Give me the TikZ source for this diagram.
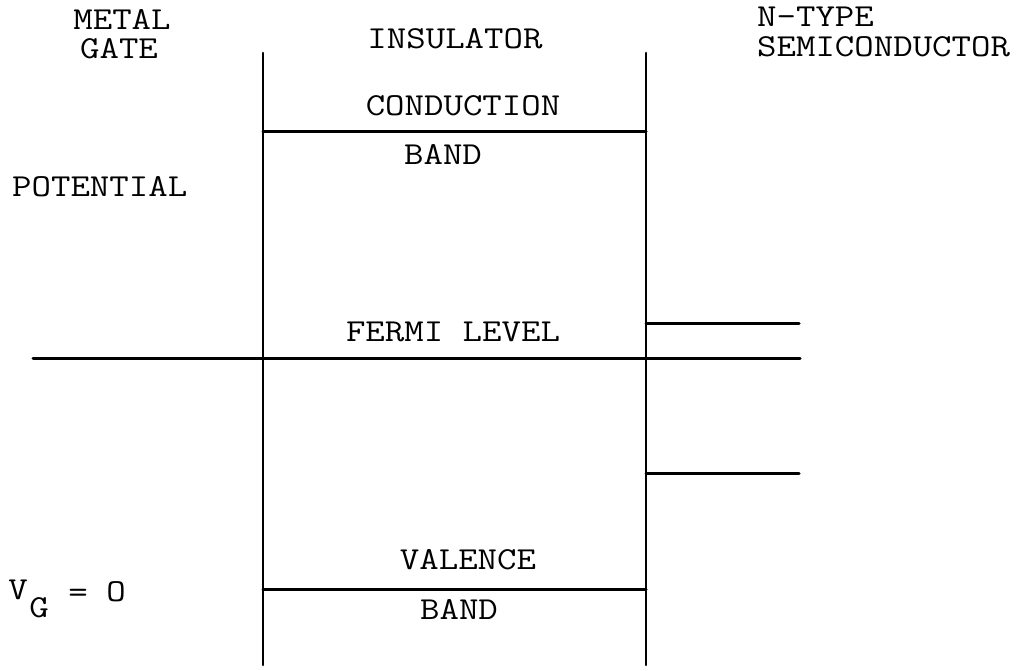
\documentclass[tikz,border=0pt]{standalone}
\usepackage{fontspec}
\usepackage{graphicx}
\newcommand{\twtext}[1]{\scalebox{1.18}[1]{#1}}
\tikzset{
  lbl/.style={inner sep=0pt, text height=19.5pt, text depth=0pt,
    font=\fontsize{32}{36}\selectfont\ttfamily},
  wall/.style={line width=2.6pt, line cap=round},
  level/.style={line width=3pt, line cap=round},
}
\begin{document}
\begin{tikzpicture}[x=1pt, y=-1pt]
\useasboundingbox (0,0) rectangle (1027,670);
% coordinates
\coordinate (LT) at (263,53);
\coordinate (LB) at (263,665);
\coordinate (RT) at (646,53);
\coordinate (RB) at (646,665);
\coordinate (CL) at (263,131);
\coordinate (CR) at (646,131);
\coordinate (VL) at (263,589);
\coordinate (VR) at (646,589);
\coordinate (FL) at (33,358);
\coordinate (FR) at (800,358);
\coordinate (SUL) at (646,323);
\coordinate (SUR) at (799,323);
\coordinate (SLL) at (646,473);
\coordinate (SLR) at (799,473);
% lines
\draw[wall] (LT) -- (LB);
\draw[wall] (RT) -- (RB);
\draw[level] (CL) -- (CR);
\draw[level] (VL) -- (VR);
\draw[level] (FL) -- (FR);
\draw[level] (SUL) -- (SUR);
\draw[level] (SLL) -- (SLR);
% labels
\node[lbl] (metal) at (122,20) {\twtext{METAL}};
\node[lbl] (gate) at (119,49) {\twtext{GATE}};
\node[lbl] (ins) at (455,39) {\twtext{INSULATOR}};
\node[lbl, anchor=west] (ntype) at (757,17) {\twtext{N-TYPE}};
\node[lbl, anchor=west] (semi) at (757,47) {\twtext{SEMICONDUCTOR}};
\node[lbl] (cond) at (463,106) {\twtext{CONDUCTION}};
\node[lbl] (cband) at (443,155) {\twtext{BAND}};
\node[lbl, anchor=west] (pot) at (12,187) {\twtext{POTENTIAL}};
\node[lbl] (fermi) at (453,332) {\twtext{FERMI LEVEL}};
\node[lbl] (val) at (468,560) {\twtext{VALENCE}};
\node[lbl] (vband) at (459,610) {\twtext{BAND}};
\node[lbl] (vv) at (18,590) {\twtext{V}};
\node[lbl] (vg) at (39,608) {\twtext{G}};
\node[lbl] (veq) at (78,593) {\twtext{=}};
\node[lbl] (vo) at (116,592) {\twtext{O}};
\end{tikzpicture}
\end{document}
